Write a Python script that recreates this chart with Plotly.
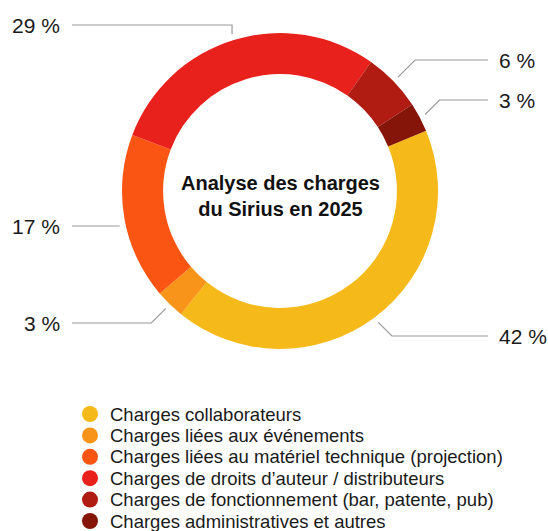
import math
import plotly.graph_objects as go

# ---------------- data ----------------
categories = [
    "Charges collaborateurs",
    "Charges liées aux événements",
    "Charges liées au matériel technique (projection)",
    "Charges de droits d’auteur / distributeurs",
    "Charges de fonctionnement (bar, patente, pub)",
    "Charges administratives et autres",
]
values = [42, 3, 17, 29, 6, 3]
pct_labels = ["42 %", "3 %", "17 %", "29 %", "6 %", "3 %"]
colors = ["#F5BA19", "#F8941A", "#FA5512", "#E8211C", "#B01C12", "#861509"]
title_lines = ["Analyse des charges", "du Sirius en 2025"]

# ---------------- layout constants ----------------
W, H = 548, 531
CX, CY, R = 280, 191, 158
HOLE = 0.74
START = 67.6                      # start angle, degrees clockwise from 12 o'clock
LEAD_R = 164                      # radius where leader lines start
label_y = [336, 323, 226, 25, 60, 100]
LEFT_TEXT_X, LEFT_LINE_X = 62, 72
RIGHT_TEXT_X, RIGHT_LINE_X = 497, 488
LEG_X, LEG_TEXT_X, LEG_Y0, LEG_DY = 90, 108, 414, 21.4
FONT = "Liberation Sans, Arial, Helvetica, sans-serif"
LINE_COLOR = "#9a9a9a"
TEXT_COLOR = "#1a1a1a"

fig = go.Figure()

fig.add_trace(go.Pie(
    labels=categories,
    values=values,
    marker=dict(colors=colors, line=dict(width=0)),
    hole=HOLE,
    sort=False,
    direction="clockwise",
    rotation=START,
    textinfo="none",
    hoverinfo="label+percent",
    showlegend=False,
    domain=dict(x=[(CX - R) / W, (CX + R) / W],
                y=[1 - (CY + R) / H, 1 - (CY - R) / H]),
))

# legend: round markers stacked from the category list
leg_y = [LEG_Y0 + i * LEG_DY for i in range(len(categories))]
fig.add_trace(go.Scatter(
    x=[LEG_X] * len(categories),
    y=leg_y,
    mode="markers",
    marker=dict(size=16, color=colors, symbol="circle", line=dict(width=0)),
    hovertext=categories,
    hoverinfo="text",
    showlegend=False,
    cliponaxis=False,
))

shapes = []
annotations = []
for cat, ly in zip(categories, leg_y):
    annotations.append(dict(
        x=LEG_TEXT_X, y=ly, xref="x", yref="y", text=cat, showarrow=False,
        xanchor="left", yanchor="middle",
        font=dict(family=FONT, size=18.5, color=TEXT_COLOR),
    ))

total = sum(values)
acc = 0.0
for v, lab, ly in zip(values, pct_labels, label_y):
    mid = START + (acc + v / 2) / total * 360.0
    acc += v
    a = math.radians(mid)
    px = CX + LEAD_R * math.sin(a)
    py = CY - LEAD_R * math.cos(a)
    right = math.sin(a) > 0
    sgn = 1 if right else -1
    if ly < CY - R:               # label above the ring: vertical elbow
        ex = px
    elif abs(ly - py) < 10:       # nearly level: straight horizontal line
        px = CX + sgn * math.sqrt(LEAD_R ** 2 - (ly - CY) ** 2)
        py = ly
        ex = px
    else:                         # 45 degree elbow
        ex = px + sgn * abs(ly - py)
    pts = [(px, py), (ex, ly), ((RIGHT_LINE_X if right else LEFT_LINE_X), ly)]
    path = "M {} {} L {} {} L {} {}".format(*[c for p in pts for c in p])
    shapes.append(dict(type="path", path=path, xref="x", yref="y",
                       line=dict(color=LINE_COLOR, width=1.2)))
    annotations.append(dict(
        x=RIGHT_TEXT_X if right else LEFT_TEXT_X, y=ly, xref="x", yref="y",
        text=lab, showarrow=False,
        xanchor="left" if right else "right", yanchor="middle",
        font=dict(family=FONT, size=21, color=TEXT_COLOR),
    ))

annotations.append(dict(
    x=CX, y=CY + 5, xref="x", yref="y",
    text="<b>" + "<br>".join(title_lines) + "</b>",
    showarrow=False, xanchor="center", yanchor="middle",
    font=dict(family=FONT, size=20, color="#111111"),
))

fig.update_layout(
    width=W, height=H,
    margin=dict(l=0, r=0, t=0, b=0),
    paper_bgcolor="white", plot_bgcolor="white",
    xaxis=dict(range=[0, W], visible=False, fixedrange=True, domain=[0, 1]),
    yaxis=dict(range=[H, 0], visible=False, fixedrange=True, domain=[0, 1]),
    shapes=shapes,
    annotations=annotations,
    showlegend=False,
)

fig.write_html(
    "out.html",
    config={"displayModeBar": False},
    post_script="document.body.style.margin='0';document.body.style.overflow='hidden';",
)
